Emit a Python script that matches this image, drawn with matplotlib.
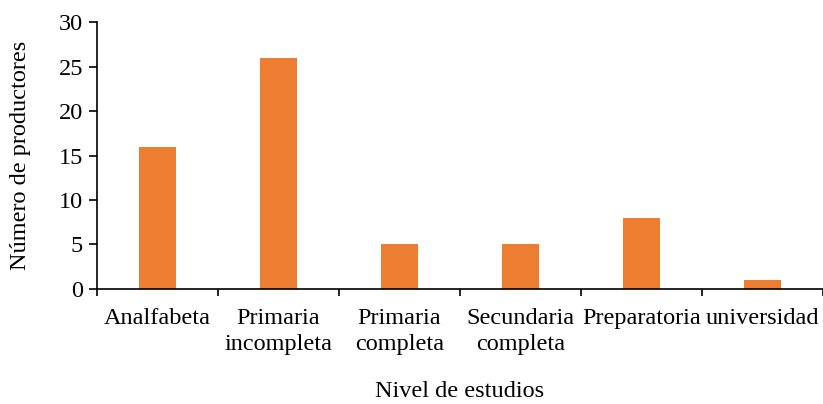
import matplotlib.pyplot as plt
import numpy as np

plt.rcParams['font.family'] = ['Liberation Serif', 'DejaVu Serif']

# datos
niveles = ["Analfabeta", "Primaria\nincompleta", "Primaria\ncompleta",
           "Secundaria\ncompleta", "Preparatoria", "universidad"]
productores = [16, 26, 5, 5, 8, 1]

fs = 17.5

fig = plt.figure(figsize=(8.23, 4.04), dpi=100)
ax = fig.add_axes([0.118, 0.285, 0.882, 0.66])

x = np.arange(len(niveles))
ax.bar(x, productores, width=0.31, color="#ED7D31")

ax.set_xlim(-0.5, len(niveles) - 0.5)
ax.set_ylim(0, 30)
ax.set_yticks(range(0, 31, 5))

# ticks del eje x entre categorias
ax.set_xticks(np.arange(-0.5, len(niveles) - 0.4, 1))
ax.set_xticklabels([])
ax.set_xticks(x, minor=True)
ax.set_xticklabels(niveles, minor=True, fontsize=fs, linespacing=1.3)
ax.tick_params(axis="x", which="minor", length=0, pad=14)
ax.tick_params(axis="x", which="major", length=5, width=1.2)
ax.tick_params(axis="y", length=6, width=1.2, labelsize=fs, pad=4)

for s in ["top", "right"]:
    ax.spines[s].set_visible(False)
ax.spines["left"].set_linewidth(1.2)
ax.spines["bottom"].set_linewidth(1.2)

ax.set_ylabel("Número de productores", fontsize=fs, labelpad=20)
fig.text(0.559, 0.006, "Nivel de estudios", ha="center", va="bottom", fontsize=fs)

fig.savefig("out.png", dpi=100)
